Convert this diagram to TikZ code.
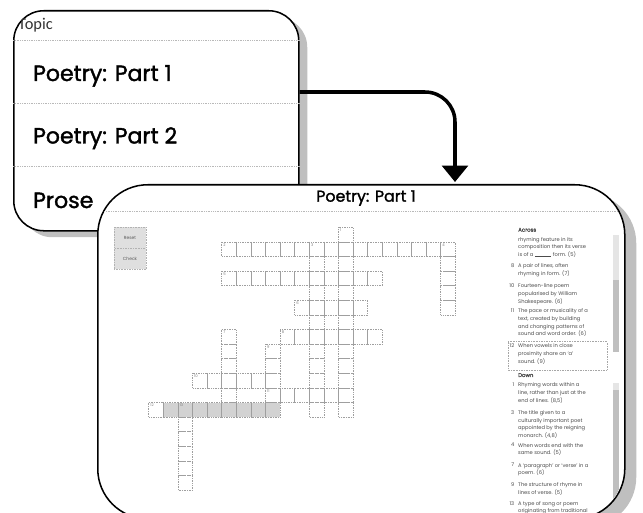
\documentclass[tikz,border=0pt]{standalone}
\usepackage{fontspec}
\setmainfont{Poppins}
\newfontfamily\headfont{Poppins}[FakeBold=1.6]
\newfontfamily\labelfont{Carlito}
\usetikzlibrary{arrows.meta,positioning}

\begin{document}
\begin{tikzpicture}[x=0.03cm, y=-0.03cm,
                    card/.style={draw, line width=1.3pt, fill=white, anchor=north west, inner sep=0pt},
                    cardshadow/.style={fill=gray!50, anchor=north west, inner sep=0pt},
                    rule/.style={draw=gray!55, densely dotted, line width=0.5pt},
                    item/.style={anchor=base west, font=\headfont\fontsize{18.8}{20}\selectfont},
                    flow/.style={line width=3pt, rounded corners=0.9cm, -{Triangle[width=22pt, length=14pt]}},
                    btn/.style={draw=gray!60, densely dotted, fill=gray!25, minimum width=0.96cm, minimum height=0.63cm, inner sep=0pt, font=\fontsize{3.8}{4}\selectfont, text=gray!70!black},
                    cell/.style={draw=gray!75, densely dotted, line width=0.45pt},
                    cellnum/.style={anchor=north west, inner sep=0pt, font=\fontsize{3.2}{3.2}\selectfont, text=gray},
                    clue/.style={anchor=north west, inner sep=0pt, align=left, font=\fontsize{4.4}{6.55}\selectfont, text=black!70},
                    cluenum/.style={anchor=north east, inner sep=0pt, font=\fontsize{4.4}{6.55}\selectfont, text=black!70}]
\useasboundingbox (0,0) rectangle (643,513);
\clip (0,0) rectangle (643,513);

% topic list
\node[cardshadow, minimum width=8.55cm, minimum height=6.6cm, rounded corners=0.9cm] (topicsshadow) at (22,17) {};
\node[card, minimum width=8.55cm, minimum height=6.6cm, rounded corners=0.9cm] (topics) at (13,10) {};
\begin{scope}
\clip[rounded corners=0.9cm] (13,10) rectangle (298,230);
\node[anchor=west, inner sep=0pt, font=\labelfont\fontsize{14}{15}\selectfont, text=black!80] (topichead) at (18,25) {Topic};
\end{scope}
\foreach \y in {40,103,166}
    \draw[rule] (topics.west |- 0,\y) -- (topics.east |- 0,\y);
\node[item] (part1) at (29,81) {Poetry: Part 1};
\node[item] (part2) at (29,143.5) {Poetry: Part 2};
\node[item] (prose) at (29,208) {Prose};

% link to the quiz
\coordinate (tip) at (455,182);
\draw[flow] (topics.east |- 0,92) -| (tip);

% quiz page
\node[cardshadow, minimum width=15.81cm, minimum height=10.02cm, rounded corners=1.5cm] (quizshadow) at (109,193) {};
\node[card, minimum width=15.81cm, minimum height=10.02cm, rounded corners=1.5cm] (quiz) at (97,184) {};
\begin{scope}
\clip[rounded corners=1.5cm] (97,184) rectangle (624,518);
\node[anchor=base, font=\headfont\fontsize{13.5}{15}\selectfont] (title) at (366,201.7) {Poetry: Part 1};
\draw[rule] (quiz.west |- 0,211) -- (quiz.east |- 0,211);

\node[btn] (reset) at (130,237.5) {Reset};
\node[btn, below=0pt of reset] (check) {Check};

% crossword grid
\begin{scope}[shift={(221.7,227.3)}, x=0.438cm, y=-0.438cm]
\fill[gray!35] (-4,12) rectangle (4,13);
\foreach \r/\a/\b in {0/8/8, 1/0/15, 3/0/10, 5/5/9, 7/0/0, 7/4/10, 10/-2/3, 11/0/0, 11/3/8, 12/-5/3}
    \foreach \c in {\a,...,\b}
        \draw[cell] (\c,\r) rectangle ++(1,1);
\foreach \c/\a/\b in {6/1/12, 8/0/12, 15/1/5, 0/7/12, 3/8/12, -3/12/17}
    \foreach \r in {\a,...,\b}
        \draw[cell] (\c,\r) rectangle ++(1,1);
\foreach \c/\r/\n in {8/0/1, 0/1/2, 6/1/3, 15/1/4, 0/3/5, 5/5/6, 0/7/7, 4/7/8, 3/8/9, -2/10/10, 3/11/11, -5/12/12, -3/12/13}
    \node[cellnum] (num\n) at (\c+0.1,\r+0.1) {\n};
\end{scope}

% clues
\fill[gray!20] (613,235) rectangle (619,352);
\fill[gray!50] (613,280) rectangle (619,352);
\fill[gray!20] (613,383) rectangle (619,520);
\fill[gray!50] (613,390) rectangle (619,520);
\draw[densely dotted, gray!70] (508,341.7) rectangle (607,370);

\node[clue, font=\headfont\fontsize{4.6}{6.55}\selectfont] (across) at (518,227.7) {Across};
\node[clue] (a6) at (518,237) {rhyming feature in its\\composition then its verse\\is of a \rule{5mm}{0.3pt} form. (5)};
\node[clue] (a8) at (518,263.7) {A pair of lines, often\\rhyming in form. (7)};
\node[clue] (a10) at (518,283.7) {Fourteen-line poem\\popularised by William\\Shakespeare. (6)};
\node[clue] (a11) at (518,308.7) {The pace or musicality of a\\text, created by building\\and changing patterns of\\sound and word order. (6)};
\node[clue] (a12) at (518,343.7) {When vowels in close\\proximity share an `a'\\sound. (9)};
\node[clue, font=\headfont\fontsize{4.6}{6.55}\selectfont] (down) at (518,373) {Down};
\node[clue] (d1) at (518,382.7) {Rhyming words within a\\line, rather than just at the\\end of lines. (8,5)};
\node[clue] (d3) at (518,410.3) {The title given to a\\culturally important poet\\appointed by the reigning\\monarch. (4,8)};
\node[clue] (d4) at (518,443) {When words end with the\\same sound. (5)};
\node[clue] (d7) at (518,463) {A `paragraph' or `verse' in a\\poem. (6)};
\node[clue] (d9) at (518,482.7) {The structure of rhyme in\\lines of verse. (5)};
\node[clue] (d13) at (518,501) {A type of song or poem\\originating from traditional};
\foreach \n in {8,10,11,12}
    \node[cluenum] at ([xshift=-3pt]a\n.north west) {\n};
\foreach \n in {1,3,4,7,9,13}
    \node[cluenum] at ([xshift=-3pt]d\n.north west) {\n};
\end{scope}
\end{tikzpicture}
\end{document}
